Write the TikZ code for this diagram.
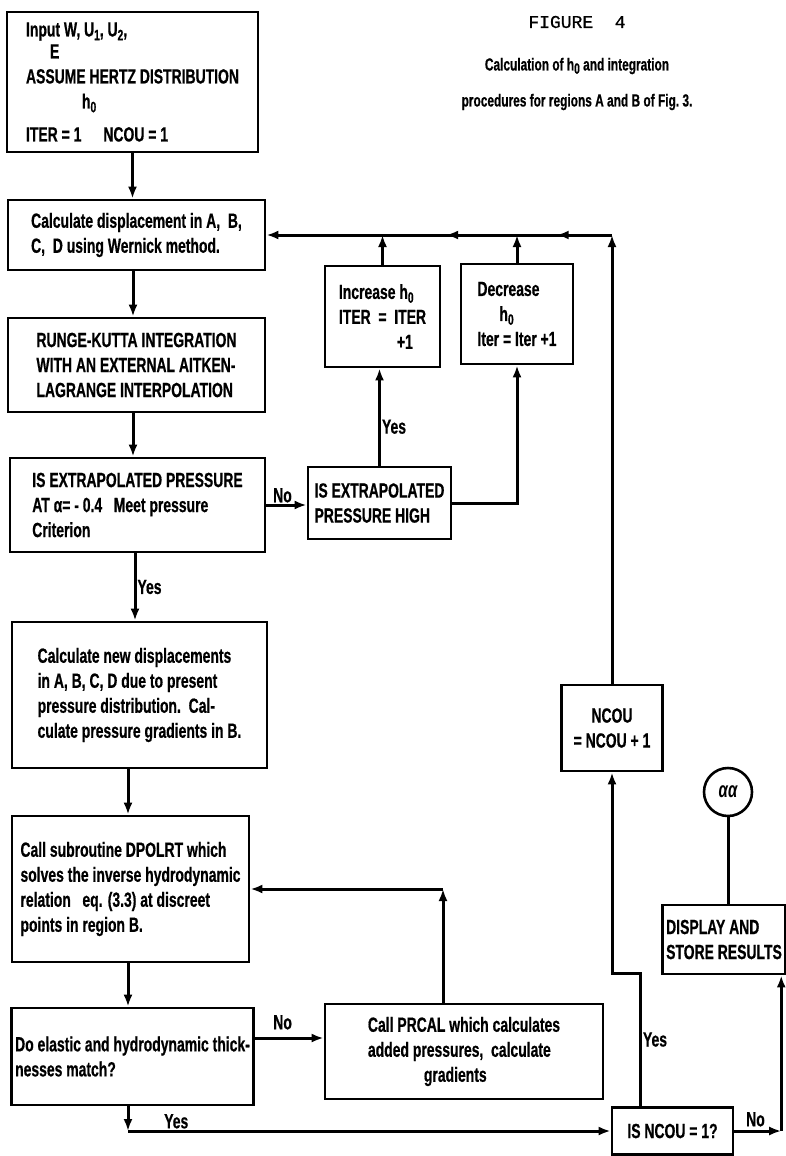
\documentclass[tikz,border=0pt]{standalone}
\usepackage{fontspec}
\setmainfont[FakeStretch=0.68,BoldFeatures={FakeBold=0.6}]{Liberation Sans}
\newfontfamily\figfont[FakeBold=0.8]{Liberation Mono}
\usetikzlibrary{arrows.meta,calc,decorations.markings}
\newcommand\lsub[1]{\raisebox{-0.35ex}{\fontsize{15}{15}\selectfont #1}}
\begin{document}
\begin{tikzpicture}[x=1pt,y=-1pt,line width=3pt,
  box/.style={draw,line width=2.8pt,inner sep=4pt,align=left,font=\fontsize{20.5}{25}\selectfont\bfseries},
  cbox/.style={box,align=center},
  arr/.style={-{Latex[length=12pt,width=9pt]}},
  lbl/.style={font=\fontsize{20.5}{22}\selectfont\bfseries,inner sep=1pt},
  midarrows/.style={postaction={decorate},decoration={markings,
     mark=at position 0.16 with {\arrow{Latex[length=12pt,width=9pt]}},
     mark=at position 0.48 with {\arrow{Latex[length=12pt,width=9pt]}}}}]
\useasboundingbox (0,0) rectangle (785,1156);
% title
\node[font=\figfont\fontsize{18}{20}\selectfont] (fig) at (577,22) {FIGURE\ \ 4};
\node[font=\fontsize{17.5}{20}\selectfont\bfseries] (cap1) at (577,66) {Calculation of h\lsub{0} and integration};
\node[font=\fontsize{17.5}{20}\selectfont\bfseries] (cap2) at (577,102) {procedures for regions A and B of Fig.\ 3.};
% boxes
\node[box,minimum width=251pt,minimum height=140pt] (inp) at (132.5,82)
  {Input W, U\lsub{1}, U\lsub{2},\\[-3pt]\hspace*{24pt}E\\ASSUME HERTZ DISTRIBUTION\\\hspace*{56pt}h\lsub{0}\\[8pt]ITER = 1\hspace{22pt}NCOU = 1};
\node[box,minimum width=257pt,minimum height=70pt] (disp) at (136.5,235)
  {Calculate displacement in A,\ \ B,\\C,\ \ D using Wernick method.};
\node[box,minimum width=257pt,minimum height=94pt] (rk) at (136.5,365)
  {RUNGE-KUTTA INTEGRATION\\WITH AN EXTERNAL AITKEN-\\LAGRANGE INTERPOLATION};
\node[box,minimum width=255pt,minimum height=94pt] (ext) at (137.5,505)
  {IS EXTRAPOLATED PRESSURE\\AT α= - 0.4\ \ \ Meet pressure\\Criterion};
\node[box,minimum width=143pt,minimum height=72pt] (high) at (379.5,503)
  {IS EXTRAPOLATED\\PRESSURE HIGH};
\node[box,minimum width=115pt,minimum height=101pt] (inc) at (382.5,316.5)
  {Increase h\lsub{0}\\ITER\ \ =\ \ ITER\\\hspace*{58pt}+1};
\node[box,minimum width=112pt,minimum height=100pt] (dec) at (517,314)
  {Decrease\\\hspace*{22pt}h\lsub{0}\\Iter\ = Iter +1};
\node[box,minimum width=255pt,minimum height=146pt] (newd) at (139.5,695)
  {Calculate new displacements\\in A,\ B,\ C,\ D due to present\\pressure distribution.\ \ Cal-\\culate pressure gradients in B.};
\node[box,minimum width=237pt,minimum height=146pt] (dpol) at (130.5,889)
  {Call subroutine DPOLRT which\\solves the inverse hydrodynamic\\relation\ \ \ eq. (3.3) at discreet\\points in region B.};
\node[box,minimum width=239pt,minimum height=97pt] (match) at (132.5,1056.5)
  {Do elastic and hydrodynamic thick-\\nesses match?};
\node[box,minimum width=278pt,minimum height=95pt] (prcal) at (464,1051.5)
  {Call PRCAL which calculates\\added pressures,\ \ calculate\\\hspace*{56pt}gradients};
\node[cbox,minimum width=101pt,minimum height=86pt] (ncou) at (612,728)
  {NCOU\\= NCOU + 1};
\node[cbox,minimum width=121pt,minimum height=47pt] (isn) at (672.5,1131)
  {IS NCOU = 1?};
\node[box,minimum width=118pt,minimum height=69pt] (store) at (724,939.5)
  {DISPLAY AND\\STORE RESULTS};
\node[draw,circle,line width=2.6pt,minimum size=48pt,inner sep=0pt,font=\fontsize{22}{24}\selectfont\bfseries\itshape] (aa) at (728,792) {αα};
% coordinates
\coordinate (ctop) at (ncou.north |- disp.east);
\coordinate (j1) at ([xshift=-32pt]isn.north);
\coordinate (j2) at (j1 |- 0,973);
\coordinate (j3) at (ncou.south |- j2);
\coordinate (k1) at ([xshift=-6pt]store.south east |- isn.east);
\coordinate (m0) at ([xshift=-4.5pt]match.south);
\coordinate (m1) at (m0 |- isn.west);
\coordinate (p0) at ([xshift=-21pt]prcal.north);
\coordinate (p1) at (p0 |- dpol.east);
% connectors
\draw[arr] (inp.south) -- (inp.south |- disp.north);
\draw[arr] ([xshift=-3.5pt]disp.south) -- ([xshift=-3.5pt]disp.south |- rk.north);
\draw[arr] ([xshift=-3.5pt]rk.south) -- ([xshift=-3.5pt]rk.south |- ext.north);
\draw[arr] ([xshift=-2.5pt]ext.south) -- node[lbl,right,pos=0.5] (y1) {Yes} ([xshift=-2.5pt]ext.south |- newd.north);
\draw[arr] ([xshift=-11.5pt]newd.south) -- ([xshift=-11.5pt]newd.south |- dpol.north);
\draw[arr] ([xshift=-2.5pt]dpol.south) -- ([xshift=-2.5pt]dpol.south |- match.north);
\draw[arr] (ext.east) -- node[lbl,above,pos=0.4] (n1) {No} (ext.east -| high.west);
\draw[arr] (high.north) -- node[lbl,right,pos=0.4] (y2) {Yes} (high.north |- inc.south);
\draw[arr] (high.east) -| (dec.south);
\draw[arr] (inc.north) -- (inc.north |- disp.east);
\draw[arr] (dec.north) -- (dec.north |- disp.east);
\draw[arr] (ncou.north) -- (ctop);
\draw[arr,midarrows] (ctop) -- (disp.east);
\draw[arr] ([yshift=18.5pt]match.east) -- node[lbl,above=6pt,pos=0.4] (n2) {No} ([yshift=18.5pt]match.east -| prcal.west);
\draw[arr] (p0) -- (p1);
\draw[arr] (p1) -- (dpol.east);
\draw[arr] (m0) -- (m1);
\draw[arr] (m1) -- node[lbl,above,pos=0.1] (y3) {Yes} (isn.west);
\draw[arr] (j1) -- node[lbl,right,pos=0.5] (y4) {Yes} (j2) -- (j3) -- (ncou.south);
\draw[arr] (isn.east) -- node[lbl,above=2pt,pos=0.45] (n3) {No} (k1);
\draw[arr] (k1) -- (k1 |- store.south);
\draw[line width=3pt] (aa.south) -- (aa.south |- store.north);
\end{tikzpicture}
\end{document}
